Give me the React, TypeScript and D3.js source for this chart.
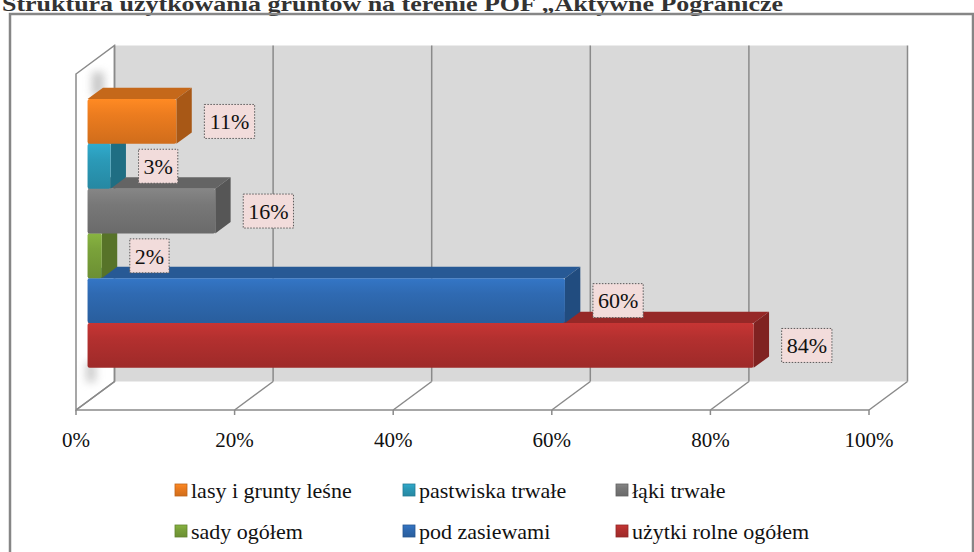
import * as d3 from "d3";

// chart data (percent of total area)
const seriesNames = [
  "lasy i grunty leśne",
  "pastwiska trwałe",
  "łąki trwałe",
  "sady ogółem",
  "pod zasiewami",
  "użytki rolne ogółem",
];
const seriesValues = [11.2, 2.9, 16.1, 1.8, 60.2, 84.0];
const seriesColors = ["#ec7c1f", "#2b9ab8", "#787878", "#7aa23a", "#2f6ab2", "#b3302f"];
const tickValues = [0, 20, 40, 60, 80, 100];

const TITLE = "Struktura użytkowania gruntów na terenie POF „Aktywne Pogranicze";

const W = 974;
const H = 552;
const FONT = "'Liberation Serif', 'DejaVu Serif', serif";

// 3D frame of the plot (front plane) and depth vector
const plotLeft = 76;
const plotRight = 869;
const plotTop = 74;
const plotBottom = 410;
const DX = 38.5;
const DY = -28.5;
const D0 = 0.3; // bar front depth
const D1 = 0.7; // bar back depth

const x = d3.scaleLinear().domain([0, 100]).range([plotLeft, plotRight]);
const yBand = d3
  .scaleBand<string>()
  .domain(seriesNames)
  .range([plotTop + (plotBottom - plotTop) * 0.1, plotBottom - (plotBottom - plotTop) * 0.1])
  .paddingInner(0);

const pt = (xx: number, yy: number, d: number) => `${xx + d * DX},${yy + d * DY}`;

// rough width of label text, enough for the small boxes
const textWidth = (s: string, size: number) =>
  s.split("").reduce((acc, c) => acc + (c === "%" ? 0.83 : 0.5) * size, 0);

function Bar({ name, value, color, idx }) {
  const y0 = yBand(name)!;
  const y1 = y0 + yBand.bandwidth();
  const xa = x(0);
  const xb = x(value);
  const c = d3.color(color)!;
  const top = c.darker(0.5).formatHex();
  const side = c.darker(0.95).formatHex();
  return (
    <g>
      {/* top face */}
      <polygon
        points={[pt(xa, y0, D0), pt(xb, y0, D0), pt(xb, y0, D1), pt(xa, y0, D1)].join(" ")}
        fill={top}
      />
      {/* right side face */}
      <polygon
        points={[pt(xb, y0, D0), pt(xb, y0, D1), pt(xb, y1, D1), pt(xb, y1, D0)].join(" ")}
        fill={side}
      />
      {/* front face */}
      <rect
        x={xa + D0 * DX}
        y={y0 + D0 * DY}
        width={xb - xa}
        height={y1 - y0}
        rx={2}
        fill={`url(#grad${idx})`}
      />
    </g>
  );
}

function Label({ name, value }) {
  const txt = `${Math.round(value)}%`;
  const fs = 22;
  const w = textWidth(txt, fs) + 10;
  const h = 34;
  const cy = yBand(name)! + yBand.bandwidth() / 2 + D0 * DY;
  const left = x(value) + D0 * DX + 28;
  return (
    <g>
      <rect
        x={left}
        y={cy - h / 2}
        width={w}
        height={h}
        fill="#f2dcdb"
        stroke="#595959"
        strokeWidth={1}
        strokeDasharray="1.5,1.5"
      />
      <text
        x={left + w / 2}
        y={cy}
        dy="0.35em"
        textAnchor="middle"
        fontSize={fs}
        fontFamily={FONT}
        fill="#111"
      >
        {txt}
      </text>
    </g>
  );
}

export default function App() {
  const gridColor = "#8a8a8a";
  const backTop = plotTop + DY;
  const backBottom = plotBottom + DY;

  // legend layout: 3 columns, 2 rows
  const legendCols = [175, 403, 616];
  const legendRows = [490, 531];

  // draw lower bars first so upper bars sit over their top faces
  const drawOrder = d3.range(seriesNames.length).reverse();

  return (
    <div style={{ position: "absolute", left: 0, top: 0 }}>
      <svg width={W} height={H} style={{ display: "block", background: "#fff" }}>
        <defs>
          {seriesColors.map((col, i) => {
            const c = d3.color(col)!;
            return (
              <linearGradient key={i} id={`grad${i}`} x1="0" y1="0" x2="0" y2="1">
                <stop offset="0%" stopColor={c.brighter(0.3).formatHex()} />
                <stop offset="35%" stopColor={c.formatHex()} />
                <stop offset="100%" stopColor={c.darker(0.35).formatHex()} />
              </linearGradient>
            );
          })}
          <filter id="soft" x="-1" y="-1" width="3" height="3">
            <feGaussianBlur stdDeviation="4" />
          </filter>
        </defs>

        {/* title */}
        <text
          x={2}
          y={11}
          fontSize={22}
          fontWeight="bold"
          fontFamily={FONT}
          fill="#333"
          textLength={781}
          lengthAdjust="spacingAndGlyphs"
        >
          {TITLE}
        </text>

        {/* outer chart border */}
        <rect x={10} y={14} width={963} height={600} fill="none" stroke="#868686" strokeWidth={2.5} />

        {/* back wall */}
        <rect
          x={x(0) + DX}
          y={backTop}
          width={x(100) - x(0)}
          height={backBottom - backTop}
          fill="#d9d9d9"
        />
        {/* side wall */}
        <polygon
          points={[pt(x(0), plotTop, 0), pt(x(0), plotTop, 1), pt(x(0), plotBottom, 1), pt(x(0), plotBottom, 0)].join(" ")}
          fill="#ffffff"
          stroke={gridColor}
          strokeWidth={1.5}
        />
        {/* soft shadows of the bars on the side wall */}
        <rect x={92} y={72} width={12} height={24} fill="#9a9a9a" opacity={0.55} filter="url(#soft)" />
        <rect x={86} y={362} width={10} height={20} fill="#9a9a9a" opacity={0.5} filter="url(#soft)" />

        {/* grid lines on back wall and floor */}
        {tickValues.map((t) => (
          <g key={t}>
            <line
              x1={x(t) + DX}
              x2={x(t) + DX}
              y1={backTop}
              y2={backBottom}
              stroke={gridColor}
              strokeWidth={1.5}
            />
            <line
              x1={x(t)}
              y1={plotBottom}
              x2={x(t) + DX}
              y2={backBottom}
              stroke={gridColor}
              strokeWidth={1.5}
            />
            <line x1={x(t)} x2={x(t)} y1={plotBottom} y2={plotBottom + 5} stroke={gridColor} strokeWidth={1.5} />
            <text
              x={x(t)}
              y={440}
              dy="0.35em"
              textAnchor="middle"
              fontSize={21}
              fontFamily={FONT}
              fill="#111"
            >
              {`${t}%`}
            </text>
          </g>
        ))}
        <line x1={x(0)} x2={x(100)} y1={plotBottom} y2={plotBottom} stroke={gridColor} strokeWidth={1.5} />

        {/* bars */}
        {drawOrder.map((i) => (
          <Bar key={i} idx={i} name={seriesNames[i]} value={seriesValues[i]} color={seriesColors[i]} />
        ))}

        {/* data labels */}
        {seriesNames.map((n, i) => (
          <Label key={n} name={n} value={seriesValues[i]} />
        ))}

        {/* legend */}
        {seriesNames.map((n, i) => {
          const lx = legendCols[i % 3];
          const ly = legendRows[Math.floor(i / 3)];
          const c = d3.color(seriesColors[i])!;
          return (
            <g key={n}>
              <rect x={lx} y={ly - 6} width={12} height={12} fill={`url(#grad${i})`} stroke={c.darker(0.6).formatHex()} strokeWidth={0.8} />
              <text x={lx + 16} y={ly} dy="0.35em" fontSize={22} fontFamily={FONT} fill="#111">
                {n}
              </text>
            </g>
          );
        })}
      </svg>
    </div>
  );
}
